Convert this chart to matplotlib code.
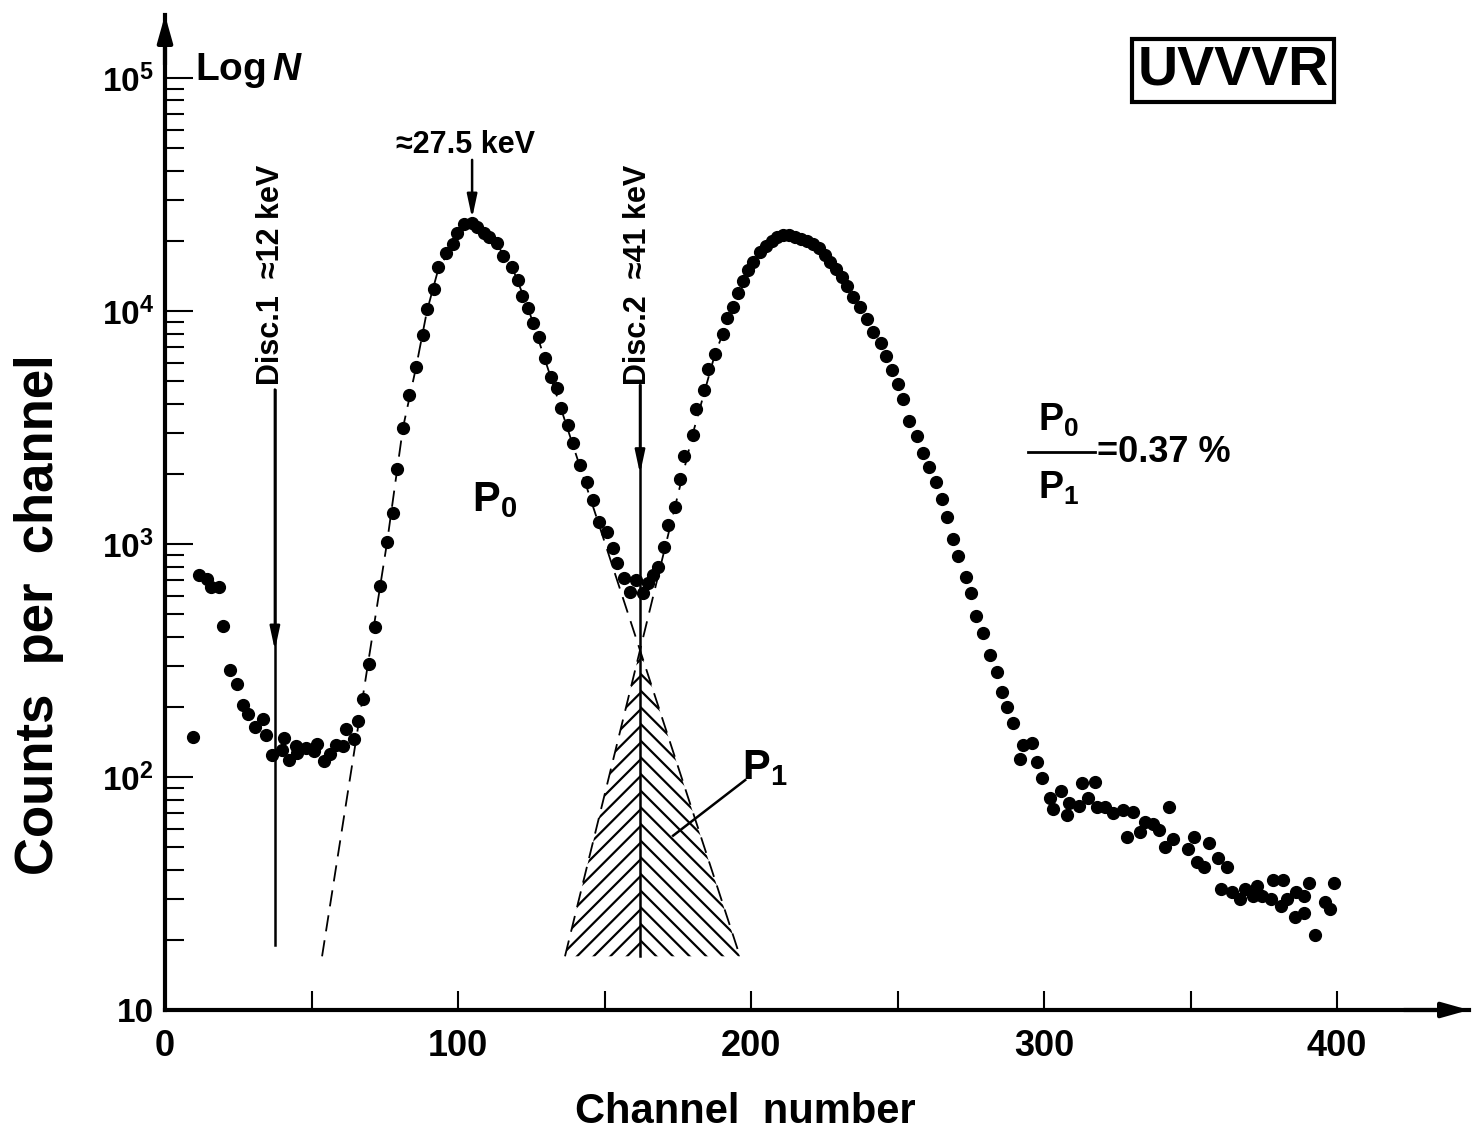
import numpy as np
import matplotlib
matplotlib.use('Agg')
import matplotlib.pyplot as plt
from matplotlib.ticker import FixedLocator, FixedFormatter, LogLocator, NullFormatter

plt.rcParams['font.family'] = ['Liberation Sans', 'DejaVu Sans']
plt.rcParams['font.weight'] = 'bold'
plt.rcParams['mathtext.fontset'] = 'custom'
plt.rcParams['mathtext.rm'] = 'Liberation Sans:bold'
plt.rcParams['mathtext.it'] = 'Liberation Sans:italic:bold'
plt.rcParams['mathtext.bf'] = 'Liberation Sans:bold'
plt.rcParams['mathtext.default'] = 'regular'
plt.rcParams['hatch.linewidth'] = 1.6

# measured spectrum (channel, counts)
channel = [9.6, 11.6, 14.3, 15.7, 18.4, 19.8, 22.2, 24.6, 26.6, 28.3, 30.7, 33.4, 34.5, 36.5,
           40.0, 40.6, 42.3, 44.7, 45.0, 48.1, 50.9, 51.9, 54.3, 56.3, 58.4, 60.8, 61.8, 64.5,
           65.9, 67.6, 69.6, 71.7, 73.2, 75.8, 77.8, 79.2, 81.2, 83.3, 85.7, 88.1, 89.4, 91.8,
           93.2, 95.9, 98.3, 99.7, 102.0, 104.8, 106.5, 108.9, 110.6, 113.3, 115.4, 118.4,
           120.5, 121.8, 123.9, 125.6, 127.6, 129.7, 131.7, 133.8, 135.2, 137.5, 139.2, 141.6,
           144.0, 146.0, 148.1, 150.9, 152.9, 154.3, 156.7, 158.7, 160.8, 163.1, 164.8, 166.6,
           168.3, 170.4, 171.5, 174.1, 175.8, 177.1, 180.2, 181.2, 184.0, 185.3, 187.7, 190.4,
           191.8, 193.9, 195.6, 197.3, 199.0, 200.7, 203.1, 205.1, 207.2, 208.9, 210.9, 213.0,
           215.0, 217.0, 219.1, 221.2, 223.2, 225.3, 227.0, 229.0, 231.0, 232.8, 234.8, 237.2,
           239.6, 241.6, 244.2, 246.1, 248.0, 250.2, 251.9, 253.9, 256.7, 258.7, 260.8, 263.1,
           265.2, 266.9, 268.9, 270.6, 273.4, 275.1, 276.8, 279.2, 281.6, 284.0, 285.7, 287.4,
           289.4, 291.8, 292.8, 296.0, 297.6, 299.3, 302.0, 303.1, 305.8, 307.8, 308.5, 312.0,
           313.0, 315.0, 317.4, 318.0, 320.8, 323.5, 327.0, 328.3, 330.4, 332.8, 334.5, 337.2,
           339.2, 341.3, 342.7, 344.0, 349.0, 351.2, 352.2, 354.6, 356.3, 359.4, 360.4, 362.5,
           364.2, 366.9, 368.6, 371.3, 372.7, 374.4, 377.5, 378.2, 380.9, 381.6, 382.9, 385.7,
           386.0, 388.7, 388.7, 390.4, 392.5, 395.9, 397.6, 399.0]
counts = [149, 736, 708, 653, 653, 444, 288, 251, 204, 186, 164, 178, 151, 124,
          131, 147, 118, 136, 127, 133, 129, 139, 117, 126, 137, 136, 161, 146,
          174, 216, 305, 441, 660, 1020, 1359, 2100, 3150, 4360, 5750, 7890, 10200, 12400,
          15450, 17700, 19400, 21600, 23600, 23900, 23000, 21600, 20800, 19600, 17200, 15500,
          13600, 11600, 10300, 8880, 7730, 6280, 5210, 4670, 3840, 3240, 2710, 2180,
          1845, 1545, 1243, 1127, 962, 829, 714, 622, 700, 616, 680, 736,
          796, 970, 1207, 1442, 1900, 2388, 2940, 3800, 4580, 5640, 6540, 7960,
          9330, 10400, 11900, 13500, 15000, 16200, 17900, 19000, 20000, 20800, 21200, 21200,
          20800, 20400, 20000, 19400, 18600, 17400, 16200, 15100, 14000, 12800, 11500, 10400,
          9240, 8130, 7290, 6410, 5590, 4860, 4190, 3370, 2910, 2460, 2140, 1845,
          1560, 1305, 1050, 888, 721, 616, 491, 415, 334, 282, 232, 200,
          171, 119, 137, 140, 116, 99, 81, 73, 87, 69, 77, 75,
          94, 81, 95, 74, 74, 70, 72, 55, 71, 58, 64, 63,
          59, 50, 74, 54, 49, 55, 43, 41, 52, 45, 33, 41,
          32, 30, 33, 31, 34, 31, 30, 36, 28, 36, 30, 25,
          32, 31, 26, 35, 21, 29, 27, 35]

# fitted peak shapes (dashed)
p0_fit_x = [53.6, 75.8, 81.2, 85.7, 89.4, 93.2, 98.3, 103.5, 108.9, 113.3, 118.4, 123.9, 162.1, 196.2]
p0_fit_y = [17, 1020, 3150, 5750, 10000, 15000, 19400, 23700, 21600, 19200, 15500, 10300, 350, 17]
p1_fit_x = [136.5, 162.1, 180.2, 187.7, 193.9, 200.7, 207.2, 212.0]
p1_fit_y = [17, 350, 3000, 6540, 10400, 16200, 20000, 21300]

fig = plt.figure(figsize=(14.73, 11.33), dpi=100)
ax = fig.add_axes([165/1473, 123/1133, 1304/1473, 995/1133])
ax.set_yscale('log')
ax.set_xlim(0, 445)
ax.set_ylim(10, 10**5.27)

# hatched overlap region
xl = np.linspace(p1_fit_x[0], p1_fit_x[1], 30)
yl = 10**np.interp(xl, p1_fit_x[:2], np.log10(p1_fit_y[:2]))
ax.fill_between(xl, 17, yl, facecolor='none', edgecolor='k', hatch='//', lw=0)
xr = np.linspace(p0_fit_x[-2], p0_fit_x[-1], 30)
yr = 10**np.interp(xr, p0_fit_x[-2:], np.log10(p0_fit_y[-2:]))
ax.fill_between(xr, 17, yr, facecolor='none', edgecolor='k', hatch='\\\\', lw=0)

ax.plot(p0_fit_x, p0_fit_y, color='k', lw=1.3, dashes=(9, 5))
ax.plot(p1_fit_x, p1_fit_y, color='k', lw=1.3, dashes=(9, 5))
ax.plot(channel, counts, 'o', color='k', ms=8.5, mec='k')

# discriminator markers
arrow = dict(arrowstyle='-|>,head_length=1.4,head_width=0.3', color='k', lw=1.8, shrinkA=0, shrinkB=0)
ax.plot([37.5, 37.5], [4600, 19], color='k', lw=1.8)
ax.annotate('', xy=(37.5, 350), xytext=(37.5, 4600), arrowprops=arrow)
ax.plot([162.1, 162.1], [4800, 17], color='k', lw=1.8)
ax.annotate('', xy=(162.1, 2000), xytext=(162.1, 4800), arrowprops=arrow)
ax.annotate('', xy=(104.8, 25000), xytext=(104.8, 44500), arrowprops=arrow)

ax.text(36.2, 4810, 'Disc.1  \u224812 keV', rotation=90, ha='center', va='bottom', fontsize=22)
ax.text(161.4, 4810, 'Disc.2  \u224841 keV', rotation=90, ha='center', va='bottom', fontsize=22)
ax.text(102.4, 51500, '\u224827.5 keV', ha='center', va='center', fontsize=22)

ax.text(112.6, 1545, '$P_0$', ha='center', va='center', fontsize=30)
ax.text(204.7, 109, '$P_1$', ha='center', va='center', fontsize=30)
ax.plot([198, 173.4], [97, 56], color='k', lw=1.8)

# ratio
ax.text(304.8, 3400, '$P_0$', ha='center', va='center', fontsize=27)
ax.plot([294.5, 317.4], [2480, 2480], color='k', lw=2)
ax.text(318.2, 2480, '=0.37 %', ha='left', va='center', fontsize=26)
ax.text(304.8, 1740, '$P_1$', ha='center', va='center', fontsize=27)

ax.text(10.2, 108000, 'Log$\\,\\mathit{N}$', ha='left', va='center', fontsize=28)
ax.text(364.5, 108000, 'UVVVR', ha='center', va='center', fontsize=40,
        bbox=dict(boxstyle='square,pad=0.1', fc='white', ec='k', lw=3))

# axes
for s in ['top', 'right']:
    ax.spines[s].set_visible(False)
for s in ['left', 'bottom']:
    ax.spines[s].set_linewidth(3)
ax.annotate('', xy=(0, 1), xytext=(0, 0.95), xycoords='axes fraction',
            arrowprops=dict(arrowstyle='-|>,head_length=1.6,head_width=0.45', color='k', lw=3, shrinkA=0, shrinkB=0))
ax.annotate('', xy=(1, 0), xytext=(0.95, 0), xycoords='axes fraction',
            arrowprops=dict(arrowstyle='-|>,head_length=1.6,head_width=0.45', color='k', lw=3, shrinkA=0, shrinkB=0))

ax.yaxis.set_major_locator(FixedLocator([10, 100, 1000, 10000, 100000]))
ax.yaxis.set_major_formatter(FixedFormatter(['10', '$10^2$', '$10^3$', '$10^4$', '$10^5$']))
ax.yaxis.set_minor_locator(LogLocator(subs=np.arange(2, 10)))
ax.yaxis.set_minor_formatter(NullFormatter())
ax.xaxis.set_major_locator(FixedLocator(np.arange(0, 401, 50)))
ax.xaxis.set_major_formatter(FixedFormatter(['0', '', '100', '', '200', '', '300', '', '400']))
ax.tick_params(axis='y', which='major', direction='in', length=20, width=1.5, labelsize=24, pad=8)
ax.tick_params(axis='y', which='minor', direction='in', length=14, width=1.5)
ax.tick_params(axis='x', which='major', direction='in', length=14, width=1.5, labelsize=26, pad=14)

ax.set_xlabel('Channel  number', fontsize=30, fontweight='bold')
ax.set_ylabel('Counts  per  channel', fontsize=38, fontweight='bold')
ax.xaxis.set_label_coords(0.445, -0.1025)
ax.yaxis.set_label_coords(-0.097, 0.397)
ax.xaxis.label.set_va('center')
ax.yaxis.label.set_va('center')

fig.savefig('out.png', dpi=100)
